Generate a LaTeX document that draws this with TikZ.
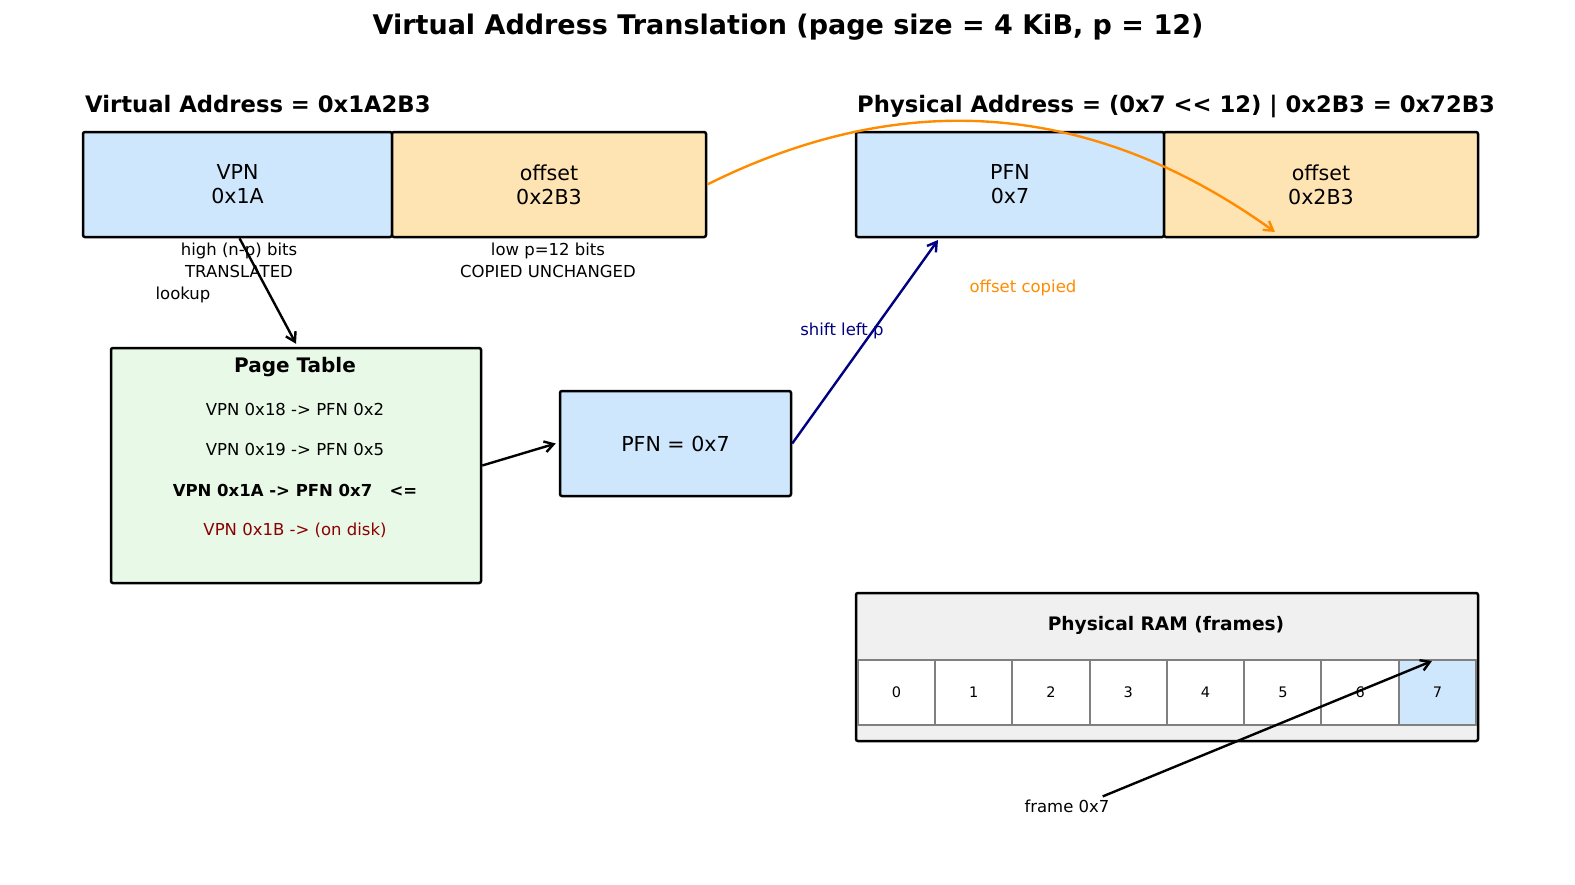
\documentclass[tikz,border=0pt]{standalone}
\usepackage{fontspec}
\setmainfont{DejaVu Sans}
\usetikzlibrary{arrows.meta}

\definecolor{fieldblue}{HTML}{CFE7FC}
\definecolor{fieldorange}{HTML}{FFE4B3}
\definecolor{tablegreen}{HTML}{E8F9E8}
\definecolor{ramgray}{HTML}{F0F0F0}
\definecolor{copyorange}{HTML}{FF8C00}
\definecolor{shiftnavy}{HTML}{000080}
\definecolor{diskred}{HTML}{8B0000}

\tikzset{
  field/.style={draw, line width=2.5pt, rounded corners=2pt, inner sep=0pt, align=center,
    font=\fontsize{20.6}{24}\selectfont},
  note/.style={inner sep=1pt, align=center, font=\fontsize{16.5}{21.5}\selectfont},
  head/.style={inner sep=0pt, font=\fontsize{22.7}{27}\selectfont\bfseries},
  entry/.style={inner sep=1pt, font=\fontsize{16.5}{20}\selectfont},
  cellbox/.style={draw=gray, line width=2pt, fill=white, minimum width=77.25pt,
    minimum height=65pt, inner sep=0pt, font=\fontsize{14.5}{16}\selectfont},
  link/.style={line width=2.4pt, -{Straight Barb[length=9pt,width=11pt]}},
}

\begin{document}
\begin{tikzpicture}[x=1pt,y=-1pt]
\useasboundingbox (0,0) rectangle (1575,884);

% title
\node[inner sep=0pt, font=\fontsize{27}{32}\selectfont\bfseries] (title) at (788,27)
  {Virtual Address Translation (page size = 4 KiB, p = 12)};

% virtual address
\node[head, anchor=west] (vahead) at (85,104) {Virtual Address = 0x1A2B3};
\node[field, fill=fieldblue, minimum width=309pt, minimum height=105pt] (vpn) at (237.5,184.5) {VPN\\0x1A};
\node[field, fill=fieldorange, minimum width=314pt, minimum height=105pt] (voff) at (549,184.5) {offset\\0x2B3};
\node[note, anchor=north] (vpnnote) at (239,242) {high (n-p) bits\\TRANSLATED};
\node[note, anchor=north] (voffnote) at (548,242) {low p=12 bits\\COPIED UNCHANGED};
\node[note] (lookup) at (183,295) {lookup};

% physical address
\node[head, anchor=west] (pahead) at (857,106) {Physical Address = (0x7 <\kern0pt< 12) | 0x2B3 = 0x72B3};
\node[field, fill=fieldblue, minimum width=308pt, minimum height=105pt] (pfn) at (1010,184.5) {PFN\\0x7};
\node[field, fill=fieldorange, minimum width=314pt, minimum height=105pt] (poff) at (1321,184.5) {offset\\0x2B3};

% page table
\node[draw, line width=2.5pt, rounded corners=2pt, fill=tablegreen, minimum width=370pt,
  minimum height=235pt] (ptab) at (296,465.5) {};
\node[inner sep=0pt, font=\fontsize{20}{24}\selectfont\bfseries] (pthead) at (295,367) {Page Table};
\node[entry] (e18) at (295,409) {VPN 0x18 -> PFN 0x2};
\node[entry] (e19) at (295,449) {VPN 0x19 -> PFN 0x5};
\node[entry, font=\fontsize{16.5}{20}\selectfont\bfseries] (e1a) at (295,490) {VPN 0x1A -> PFN 0x7\ \ \ <=};
\node[entry, text=diskred] (e1b) at (295,530) {VPN 0x1B -> (on disk)};

% pfn result
\node[field, fill=fieldblue, minimum width=231pt, minimum height=105pt] (pfnbox) at (675.5,443.5) {PFN = 0x7};

% physical ram
\node[draw, line width=2.5pt, rounded corners=2pt, fill=ramgray, minimum width=622pt,
  minimum height=148pt] (ram) at (1167,667) {};
\node[inner sep=0pt, font=\fontsize{18.6}{22}\selectfont\bfseries] (ramhead) at (1166,625) {Physical RAM (frames)};
\foreach \i in {0,...,6}
  \node[cellbox] (cell\i) at ({896.6+77.25*\i},692) {\i};
\node[cellbox, fill=fieldblue] (cell7) at ({896.6+77.25*7},692) {7};
\node[note] (frm) at (1067,806) {frame 0x7};

% arrows
\coordinate (pfnin) at (938,240);
\coordinate (offin) at (1275,232);
\coordinate (cellin) at (1432,661);
\draw[link] (vpn.south) ++(2,0) -- ([yshift=3pt]ptab.north);
\draw[link] (ptab.east) -- ([xshift=-3pt]pfnbox.west);
\draw[link, shiftnavy] (pfnbox.east) -- (pfnin);
\node[note, text=shiftnavy] (shiftlbl) at (842,331) {shift left p};
\draw[link, copyorange] (voff.east) .. controls (905,86) and (1094,102) .. (offin);
\node[note, text=copyorange] (copylbl) at (1023,288) {offset copied};
\draw[link] ([xshift=-8pt,yshift=2pt]frm.north east) -- (cellin);

\end{tikzpicture}
\end{document}
